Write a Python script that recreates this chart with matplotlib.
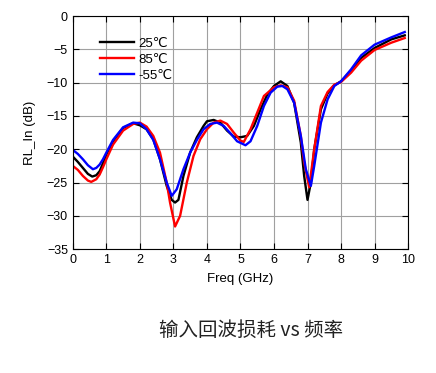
import numpy as np
import matplotlib.pyplot as plt

plt.rcParams['font.family'] = ['Liberation Sans', 'DejaVu Sans']

# 25 C
f_25 = [0, 0.15, 0.3, 0.45, 0.58, 0.7, 0.8, 0.9, 1.0, 1.2, 1.5, 1.8, 2.0, 2.2, 2.4, 2.6, 2.8, 2.95, 3.05,
        3.15, 3.3, 3.5, 3.7, 3.9, 4.0, 4.2, 4.4, 4.6, 4.8, 5.0, 5.2, 5.4, 5.6, 5.8, 6.0, 6.2, 6.4,
        6.6, 6.8, 6.9, 7.0, 7.1, 7.2, 7.4, 7.6, 7.8, 8.0, 8.3, 8.6, 9.0, 9.5, 9.9]
rl_25 = [-21.1, -21.9, -22.8, -23.7, -24.1, -23.9, -23.3, -22.1, -20.8, -18.8, -16.8, -16.1, -16.4,
         -17.0, -18.5, -21.5, -25.5, -27.6, -28.0, -27.6, -24.0, -20.5, -18.2, -16.5, -15.8, -15.6,
         -16.0, -17.2, -18.1, -18.2, -18.0, -16.5, -14.0, -11.8, -10.5, -9.8, -10.5, -13.0, -19.0,
         -24.0, -27.6, -25.0, -20.0, -14.0, -11.6, -10.4, -9.8, -8.2, -6.3, -4.8, -3.5, -2.9]

# 85 C
f_85 = [0, 0.15, 0.3, 0.45, 0.55, 0.7, 0.8, 0.9, 1.0, 1.2, 1.5, 1.8, 2.0, 2.2, 2.4, 2.6, 2.8, 2.9, 3.05,
        3.2, 3.4, 3.6, 3.8, 4.0, 4.2, 4.4, 4.6, 4.8, 5.0, 5.1, 5.3, 5.5, 5.7, 6.0, 6.2, 6.4, 6.6,
        6.8, 6.9, 7.05, 7.2, 7.4, 7.6, 7.8, 8.0, 8.3, 8.6, 9.0, 9.5, 9.9]
rl_85 = [-22.5, -23.1, -24.0, -24.7, -24.9, -24.5, -23.8, -22.7, -21.5, -19.3, -17.2, -16.2, -16.0,
         -16.6, -18.0, -20.5, -25.0, -28.0, -31.6, -30.0, -25.0, -21.0, -18.5, -17.0, -16.0, -15.7,
         -16.2, -17.5, -18.7, -18.9, -17.0, -14.5, -12.0, -10.7, -10.4, -10.7, -12.7, -18.0, -22.0,
         -25.7, -20.0, -13.5, -11.4, -10.3, -9.9, -8.5, -6.7, -5.1, -4.0, -3.3]

# -55 C
f_m55 = [0, 0.15, 0.3, 0.45, 0.6, 0.7, 0.8, 0.9, 1.0, 1.2, 1.5, 1.8, 2.0, 2.2, 2.4, 2.6, 2.8, 2.95, 3.1,
         3.3, 3.5, 3.7, 3.9, 4.1, 4.3, 4.5, 4.7, 4.9, 5.15, 5.3, 5.5, 5.7, 5.9, 6.1, 6.25, 6.4, 6.6,
         6.8, 6.95, 7.1, 7.2, 7.4, 7.6, 7.8, 8.0, 8.3, 8.6, 9.0, 9.5, 9.9]
rl_m55 = [-20.1, -20.7, -21.5, -22.4, -23.0, -22.8, -22.3, -21.5, -20.5, -18.6, -16.7, -16.0, -16.1,
          -17.0, -18.6, -21.5, -25.0, -27.0, -26.0, -23.0, -20.5, -18.6, -17.0, -16.2, -16.0, -16.5,
          -17.6, -18.8, -19.4, -18.8, -16.5, -13.5, -11.5, -10.6, -10.5, -11.0, -13.0, -18.0, -23.0,
          -25.5, -22.5, -16.0, -12.5, -10.5, -9.8, -8.0, -5.9, -4.3, -3.2, -2.4]

fig = plt.figure(figsize=(4.36, 3.73), dpi=100)
ax = fig.add_axes([0.167, 0.332, 0.769, 0.625])

ax.plot(f_25, rl_25, color='black', lw=1.7, label='25℃')
ax.plot(f_85, rl_85, color='#ff0000', lw=1.7, label='85℃')
ax.plot(f_m55, rl_m55, color='#0000ff', lw=1.7, label='-55℃')

ax.set_xlim(0, 10)
ax.set_ylim(-35, 0)
ax.set_xticks(range(0, 11))
ax.set_yticks(range(-35, 1, 5))
ax.grid(True, color='#a0a0a0', lw=0.8)
ax.tick_params(direction='in', top=True, right=True, labelsize=9, length=4)
ax.set_xlabel('Freq (GHz)', fontsize=9.5, labelpad=5)
ax.set_ylabel('RL_In (dB)', fontsize=9.5, labelpad=8)

leg = ax.legend(loc='upper left', bbox_to_anchor=(0.045, 0.96), frameon=False,
                handlelength=2.6, handletextpad=0.3, labelspacing=0.3,
                prop={'family': ['Liberation Sans', 'DejaVu Sans'], 'size': 9.5})

fig.text(0.575, 0.113, '输入回波损耗 vs 频率', ha='center', va='center', fontsize=14,
         family=['Noto Sans CJK SC', 'DejaVu Sans'], color='#222222')

fig.savefig('out.png', dpi=100)
